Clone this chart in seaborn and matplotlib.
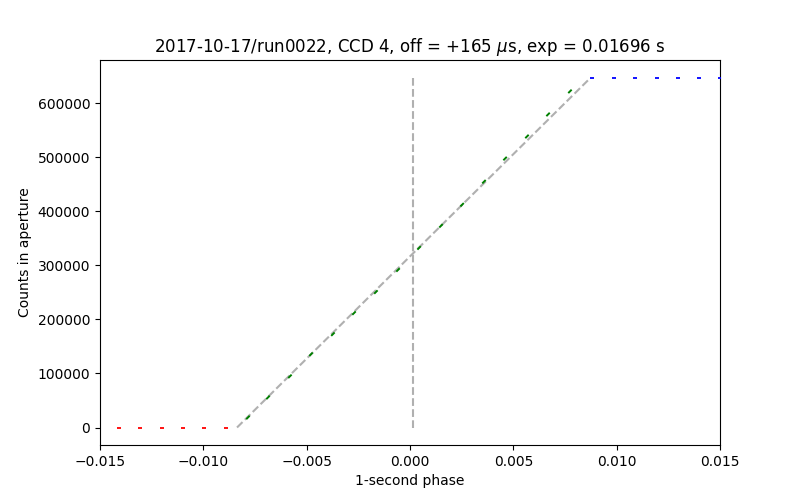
import matplotlib
matplotlib.use("Agg")
import matplotlib.pyplot as plt
from matplotlib.path import Path
import seaborn as sns
import pandas as pd

# Data
red_phase = [-0.01408, -0.01306, -0.01201, -0.01097, -0.00995, -0.00890]
red_counts = [0, 0, 0, 0, 0, 0]

green_phase = [-0.00784, -0.00687, -0.00581, -0.00479, -0.00373, -0.00271,
               -0.00165, -0.00058, 0.00044, 0.00150, 0.00252, 0.00358,
               0.00460, 0.00566, 0.00668, 0.00774]
green_counts = [18600, 55700, 94700, 135600, 172800, 211800, 250800, 291700,
                332500, 373400, 412400, 455100, 497900, 538800, 579600, 622300]

blue_phase = [0.00881, 0.00987, 0.01089, 0.01195, 0.01297, 0.01399, 0.01500]
blue_counts = [648000, 647000, 647500, 646500, 647500, 647000, 646500]

fit_phase = [-0.00837, 0.00871]
fit_counts = [0, 646500]

offset_phase = 0.00013
offset_top = 646500

title = "2017-10-17/run0022, CCD 4, off = +165 $\\mu$s, exp = 0.01696 s"
xlabel = "1-second phase"
ylabel = "Counts in aperture"

fig, ax = plt.subplots(figsize=(8, 5), dpi=100)

sns.lineplot(x=fit_phase, y=fit_counts, ax=ax, color="#b0b0b0",
             linestyle="--", linewidth=1.5, zorder=1)
ax.vlines(offset_phase, 0, offset_top, colors="#b0b0b0",
          linestyles="--", linewidth=1.5, zorder=1)

diag = Path([(-1, -1), (1, 1)], [Path.MOVETO, Path.LINETO])

sns.scatterplot(x=red_phase, y=red_counts, ax=ax, marker="_", s=10,
                color="r", linewidth=1.3, zorder=3)
sns.scatterplot(x=green_phase, y=green_counts, ax=ax, marker=diag, s=6,
                facecolor="none", edgecolor="g", linewidth=1.4, zorder=3)
sns.scatterplot(x=blue_phase, y=blue_counts, ax=ax, marker="_", s=10,
                color="b", linewidth=1.3, zorder=3)

ax.set_xlim(-0.015, 0.015)
ax.set_title(title)
ax.set_xlabel(xlabel)
ax.set_ylabel(ylabel)

fig.savefig("out.png", dpi=100)
